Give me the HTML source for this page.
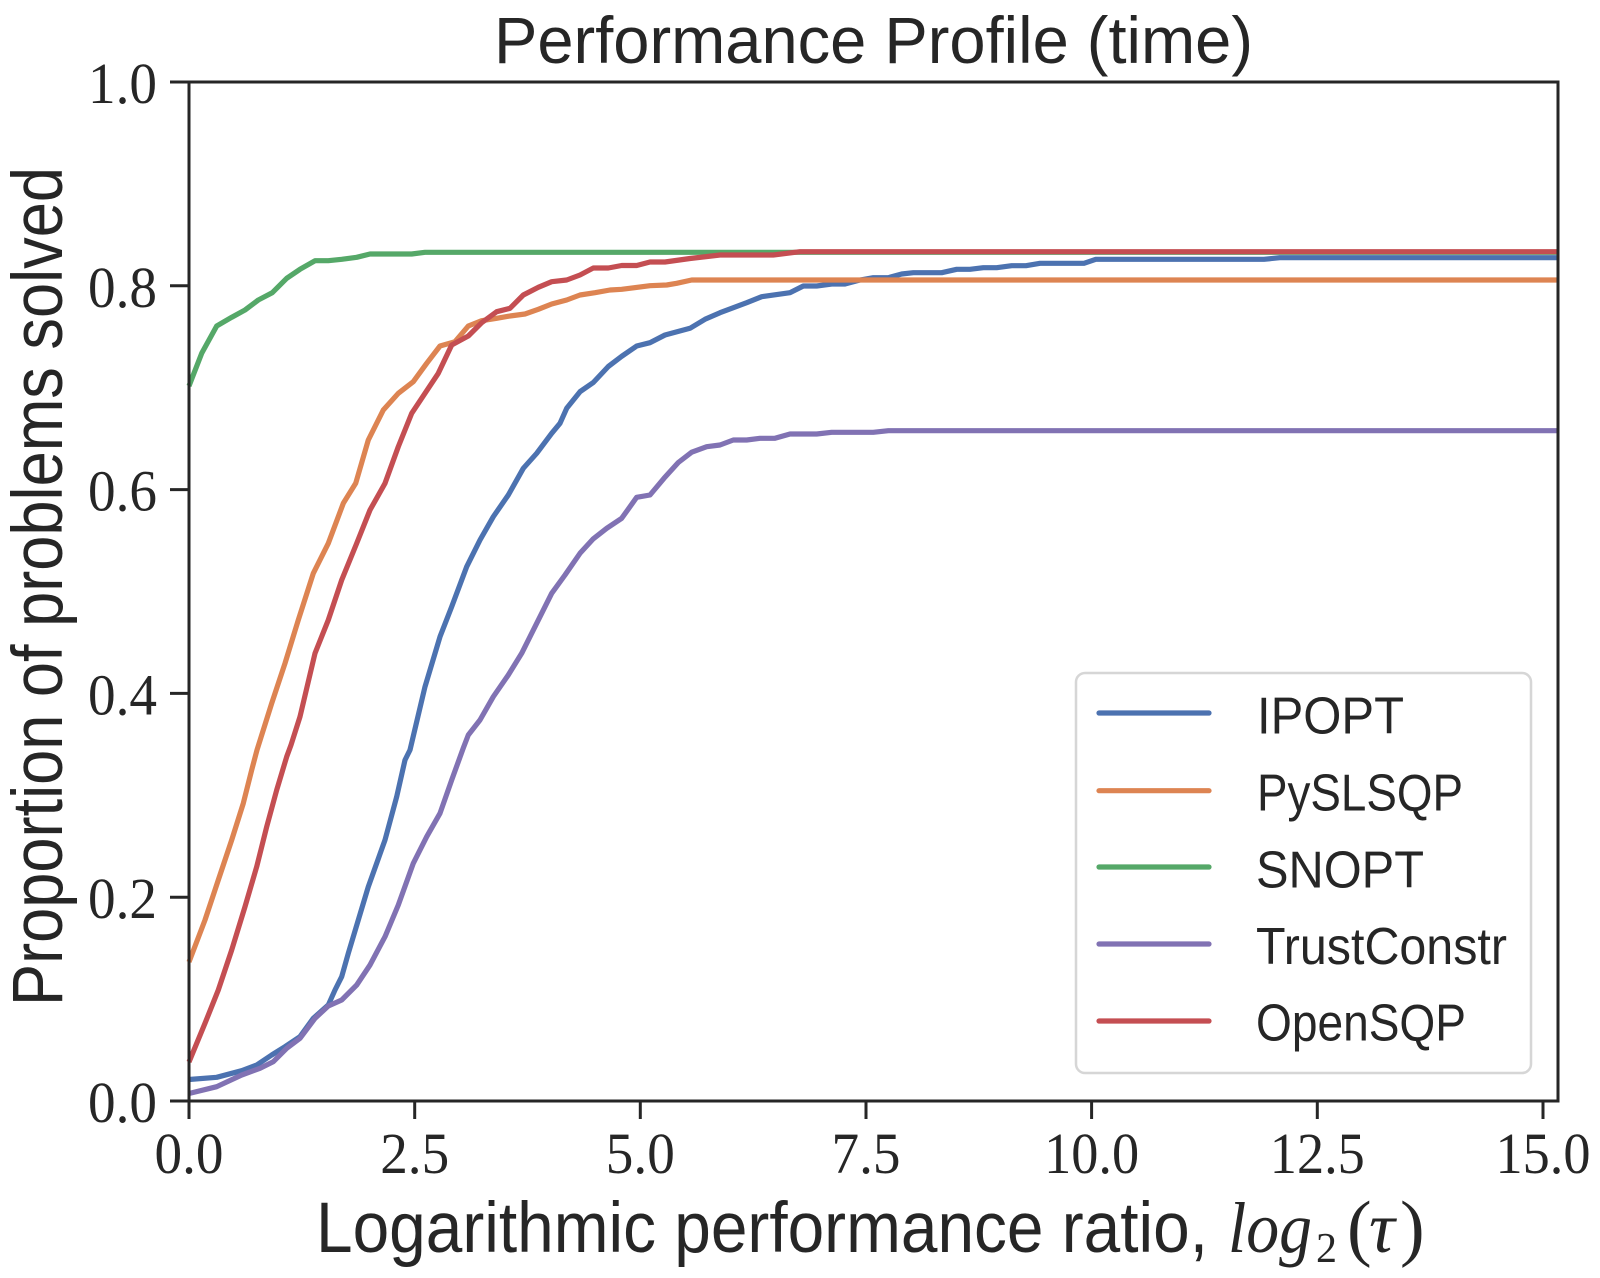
<!DOCTYPE html>
<html>
<head>
<meta charset="utf-8">
<style>
html,body{margin:0;padding:0;background:#fff;}
svg{display:block;}
.sans{font-family:"Liberation Sans","DejaVu Sans",sans-serif;fill:#262626;}
.serif{font-family:"Liberation Serif","DejaVu Serif",serif;fill:#262626;}
</style>
</head>
<body>
<svg width="1600" height="1278" viewBox="0 0 1600 1278" xmlns="http://www.w3.org/2000/svg">
<rect x="0" y="0" width="1600" height="1278" fill="#fff"/>

<!-- Title -->
<text class="sans" x="494" y="63" font-size="66" textLength="759" lengthAdjust="spacingAndGlyphs">Performance Profile (time)</text>

<!-- Series -->
<g fill="none" stroke-width="5.2" stroke-linejoin="round" stroke-linecap="butt">
<polyline stroke="#4C72B0" points="189,1079.5 216.7,1077.3 241.7,1070.7 256.7,1065 271.7,1055 285,1046.7 300,1036.7 313.3,1018.3 328.3,1005 335,990 341.7,976.7 348.3,953.3 358.3,920 368.3,886.7 385,840 396.7,796.7 405,760 410,750 425,686.7 440,636.7 451.7,606.7 466.7,566.7 480,540 493.3,516.7 508.3,495 523.3,468.3 536.7,453.3 551.7,433.3 560,423.3 566.7,408.3 580,391.7 593.3,382.5 608.3,366.5 621.7,356.3 636.7,346 650,342.7 665,335 690,328.3 705,319.3 720,312.7 746.7,302.7 761.7,296.7 790,292.7 803.3,286 816.7,286 831.7,284 845,284 860,280 873.3,277.7 888.3,277.7 901.7,274 913.3,272.7 941.7,272.7 956.7,269.3 970,269.3 983.3,267.7 996.7,267.7 1011.7,265.7 1026,265.7 1040,263.3 1084,263.3 1095.8,259.3 1264,259.3 1279.7,257.7 1557,257.7"/>
<polyline stroke="#DD8452" points="189,962 205,920 218.3,880 231.7,840 243.3,803.3 251.7,770 257,750 271.7,703.3 285,663.3 298.3,620 313.3,573.3 328.3,543.3 343.3,503.3 355.7,483.3 368.3,440 383.3,410 398.3,393.3 413.3,381.7 426.7,363.3 440,346 455,341.7 468.3,326 481.7,320.7 496.7,318.3 510,316 525,314 538.3,309.3 551.7,304 566.7,300 580,295 595,292.7 610,290 621.7,289.3 650,285.7 666.7,285 676.7,283.3 691.7,280 1557,280"/>
<polyline stroke="#55A868" points="189,386 201.7,353.3 216.7,326 231.7,317.3 245,310 258.3,300 272.3,292.7 286.7,278.3 300,269.3 315,260.7 328.3,260.7 341.7,259.3 356.7,257.3 370,254 411.7,254 425,252.3 1557,252.3"/>
<polyline stroke="#8172B3" points="189,1093.5 216.7,1086.7 241.7,1075 260,1068.3 273.3,1061.7 286.7,1048.3 300,1038.3 315,1018.3 328.3,1006 341.7,1000 356.7,985 370,965 385,936.7 398.3,905 413.3,863.3 426.7,836.7 440,813.3 451.7,780 463.3,748 468.3,735 480,720 493.3,696.7 508.3,675 521.7,653.3 536.7,623.3 551.7,593.3 565,575 580,553.3 593.3,538.8 606.7,528.3 621.7,518.3 636.7,497.3 650,495 664,478.3 678.3,462.5 691.7,452.2 706.7,446.7 720,445 733.3,440 746.7,440 760,438.3 775,438.3 790,434 816.7,434 831.7,432.3 873.3,432.3 888.3,430.7 1557,430.7"/>
<polyline stroke="#C44E52" points="189,1062 205,1023.3 218.3,990 231.7,950 245,906.7 256.7,866.7 266.7,826.7 276.7,790 286.7,756.7 291,745 300,716.7 315,653.3 328.3,620 341.7,580 356.7,543.3 370,510 385,483.3 398.3,446.7 411.7,413.3 425,393.3 438.3,373.3 451.7,345 468.3,336 481.7,322.7 496.7,311.7 510,308.3 523.3,295 538.3,287.3 551.7,281.7 566.7,280 580,275 593.3,268 608.3,268 621.7,265.5 636.7,265.5 650,262 665,262 690,258.5 720,255 773.3,255 800,251.7 1557,251.7"/>
</g>

<!-- Spines -->
<rect x="189" y="82" width="1369" height="1019" fill="none" stroke="#262626" stroke-width="3"/>

<!-- Y ticks -->
<g stroke="#262626" stroke-width="3">
<line x1="170" y1="1101" x2="189" y2="1101"/>
<line x1="170" y1="897.2" x2="189" y2="897.2"/>
<line x1="170" y1="693.4" x2="189" y2="693.4"/>
<line x1="170" y1="489.6" x2="189" y2="489.6"/>
<line x1="170" y1="285.8" x2="189" y2="285.8"/>
<line x1="170" y1="82" x2="189" y2="82"/>
<!-- X ticks -->
<line x1="189" y1="1101" x2="189" y2="1119"/>
<line x1="414.7" y1="1101" x2="414.7" y2="1119"/>
<line x1="640.3" y1="1101" x2="640.3" y2="1119"/>
<line x1="866" y1="1101" x2="866" y2="1119"/>
<line x1="1091.6" y1="1101" x2="1091.6" y2="1119"/>
<line x1="1317.3" y1="1101" x2="1317.3" y2="1119"/>
<line x1="1543" y1="1101" x2="1543" y2="1119"/>
</g>

<!-- Y tick labels -->
<g class="serif" font-size="58" text-anchor="end">
<text x="157" y="1122" textLength="69" lengthAdjust="spacingAndGlyphs">0.0</text>
<text x="157" y="918.2" textLength="69" lengthAdjust="spacingAndGlyphs">0.2</text>
<text x="157" y="714.4" textLength="69" lengthAdjust="spacingAndGlyphs">0.4</text>
<text x="157" y="510.6" textLength="69" lengthAdjust="spacingAndGlyphs">0.6</text>
<text x="157" y="306.8" textLength="69" lengthAdjust="spacingAndGlyphs">0.8</text>
<text x="157" y="103" textLength="69" lengthAdjust="spacingAndGlyphs">1.0</text>
</g>

<!-- X tick labels -->
<g class="serif" font-size="58">
<text x="154.5" y="1173" textLength="69" lengthAdjust="spacingAndGlyphs">0.0</text>
<text x="380.2" y="1173" textLength="69" lengthAdjust="spacingAndGlyphs">2.5</text>
<text x="605.8" y="1173" textLength="69" lengthAdjust="spacingAndGlyphs">5.0</text>
<text x="831.5" y="1173" textLength="69" lengthAdjust="spacingAndGlyphs">7.5</text>
<text x="1044.1" y="1173" textLength="95" lengthAdjust="spacingAndGlyphs">10.0</text>
<text x="1269.8" y="1173" textLength="95" lengthAdjust="spacingAndGlyphs">12.5</text>
<text x="1495.5" y="1173" textLength="95" lengthAdjust="spacingAndGlyphs">15.0</text>
</g>

<!-- X label -->
<text class="sans" x="316" y="1252" font-size="71" textLength="892" lengthAdjust="spacingAndGlyphs">Logarithmic performance ratio,</text>
<text class="serif" x="1228" y="1252" font-size="72" font-style="italic" textLength="84" lengthAdjust="spacingAndGlyphs">log</text>
<text class="serif" x="1316" y="1262" font-size="42">2</text>
<text class="serif" x="1347" y="1252" font-size="74">(</text>
<text class="serif" x="1369" y="1252" font-size="72" font-style="italic">τ</text>
<text class="serif" x="1400" y="1252" font-size="74">)</text>

<!-- Y label -->
<text class="sans" transform="translate(62,1006) rotate(-90)" x="0" y="0" font-size="71" textLength="839" lengthAdjust="spacingAndGlyphs">Proportion of problems solved</text>

<!-- Legend -->
<rect x="1076" y="673" width="455" height="400" rx="9" ry="9" fill="#ffffff" fill-opacity="0.85" stroke="#d6d6d6" stroke-width="2.5"/>
<g stroke-width="5.2" stroke-linecap="round">
<line x1="1099" y1="713" x2="1209" y2="713" stroke="#4C72B0"/>
<line x1="1099" y1="790.7" x2="1209" y2="790.7" stroke="#DD8452"/>
<line x1="1099" y1="867" x2="1209" y2="867" stroke="#55A868"/>
<line x1="1099" y1="944" x2="1209" y2="944" stroke="#8172B3"/>
<line x1="1099" y1="1021" x2="1209" y2="1021" stroke="#C44E52"/>
</g>
<g class="sans" font-size="52">
<text x="1257" y="733.3" textLength="147" lengthAdjust="spacingAndGlyphs">IPOPT</text>
<text x="1257" y="810.7" textLength="206" lengthAdjust="spacingAndGlyphs">PySLSQP</text>
<text x="1256" y="887.7" textLength="168" lengthAdjust="spacingAndGlyphs">SNOPT</text>
<text x="1256" y="964" textLength="251" lengthAdjust="spacingAndGlyphs">TrustConstr</text>
<text x="1256" y="1040.7" textLength="210" lengthAdjust="spacingAndGlyphs">OpenSQP</text>
</g>
</svg>
</body>
</html>
